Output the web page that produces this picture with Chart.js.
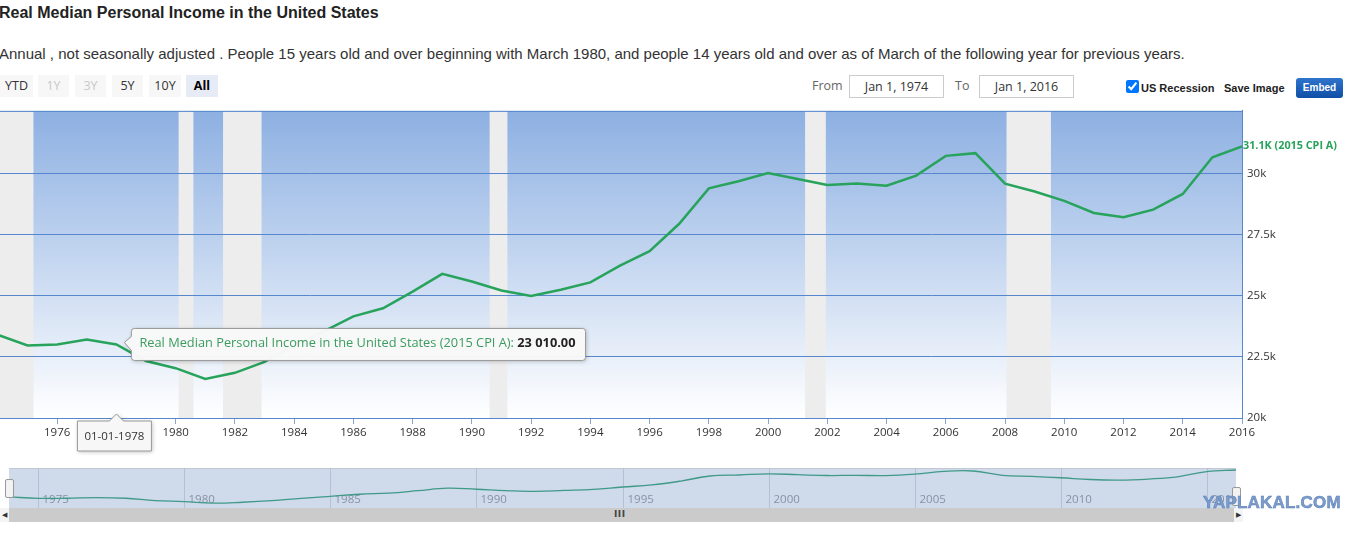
<!DOCTYPE html>
<html>
<head>
<meta charset="utf-8">
<script src="https://cdn.jsdelivr.net/npm/chart.js@4.4.1/dist/chart.umd.min.js"></script>
<style>
  body { margin: 0; width: 1370px; height: 534px; overflow: hidden; background: #fff; font-family: "Liberation Sans", Arial, sans-serif; position: relative; }
  .abs { position: absolute; }
  #title { left: -1px; top: 4px; font-size: 16px; font-weight: bold; color: #222; white-space: nowrap; }
  #sub { left: -1px; top: 45px; font-size: 15px; color: #333; white-space: nowrap; }
  .btn { top: 75px; height: 22px; line-height: 22px; text-align: center; font-family: "Open Sans", sans-serif; font-size: 12.5px; color: #333; background: #f7f7f7; }
  .btn.off { color: #c8c8c8; }
  .btn.on { background: #e6ebf5; font-weight: bold; color: #000; }
  .lbl { top: 77px; font-family: "Open Sans", sans-serif; font-size: 12.5px; color: #666; }
  .box { top: 75px; height: 21px; width: 93px; border: 1px solid #ccc; text-align: center; line-height: 21px; font-family: "Open Sans", sans-serif; font-size: 12.5px; color: #333; }
  .small { top: 82px; font-size: 11px; font-weight: bold; color: #222; }
  #embed { left: 1296px; top: 78px; width: 47px; height: 20px; line-height: 20px; border-radius: 3px; background: linear-gradient(#2f74cc, #0f4fa6); color: #fff; font-size: 10px; font-weight: bold; text-align: center; }
  #scroll { left: 0; top: 508px; width: 1243px; height: 14px; background: #cbcbcb; }
  .arrow { top: 508px; width: 9px; height: 14px; background: #f4f4f4; font-size: 7px; line-height: 14px; text-align: center; color: #333; }
  .handle { width: 7px; height: 17px; background: #f2f2f2; border: 1px solid #999; border-radius: 2px; }
  #wm { left: 1203px; top: 493px; font-size: 17px; font-weight: bold; color: #7b9ccc; letter-spacing: 0.2px; -webkit-text-stroke: 0.5px #5b7fb5; }
</style>
</head>
<body>
<div id="title" class="abs">Real Median Personal Income in the United States</div>
<div id="sub" class="abs">Annual , not seasonally adjusted . People 15 years old and over beginning with March 1980, and people 14 years old and over as of March of the following year for previous years.</div>

<div class="abs btn" style="left:0;width:33px">YTD</div>
<div class="abs btn off" style="left:38px;width:31px">1Y</div>
<div class="abs btn off" style="left:75px;width:31px">3Y</div>
<div class="abs btn" style="left:112px;width:31px">5Y</div>
<div class="abs btn" style="left:149px;width:32px">10Y</div>
<div class="abs btn on" style="left:186px;width:32px">All</div>

<div class="abs lbl" style="left:812px">From</div>
<div class="abs box" style="left:849px">Jan 1, 1974</div>
<div class="abs lbl" style="left:955px">To</div>
<div class="abs box" style="left:979px">Jan 1, 2016</div>

<input type="checkbox" checked class="abs" style="left:1126px;top:80px;margin:0;width:13px;height:13px">
<div class="abs small" style="left:1141px">US Recession</div>
<div class="abs small" style="left:1224px">Save Image</div>
<div id="embed" class="abs">Embed</div>

<canvas id="main" class="abs" width="1370" height="360" style="left:0;top:99px"></canvas>
<canvas id="nav" class="abs" width="1227" height="40" style="left:9px;top:468px"></canvas>

<div id="scroll" class="abs"></div>
<div class="abs" style="left:614px;top:509px;font-size:9px;font-weight:bold;color:#444;letter-spacing:0.5px;font-family:'DejaVu Sans'">III</div>
<div class="abs arrow" style="left:0">&#9664;</div>
<div class="abs arrow" style="left:1234px">&#9654;</div>
<div class="abs handle" style="left:5px;top:479px"></div>
<div class="abs handle" style="left:1232px;top:487px"></div>
<div id="wm" class="abs">YAPLAKAL.COM</div>

<script>
const years = [1974, 1975, 1976, 1977, 1978, 1979, 1980, 1981, 1982, 1983, 1984, 1985, 1986, 1987,
  1988, 1989, 1990, 1991, 1992, 1993, 1994, 1995, 1996, 1997, 1998, 1999, 2000, 2001, 2002, 2003,
  2004, 2005, 2006, 2007, 2008, 2009, 2010, 2011, 2012, 2013, 2014, 2015, 2016];
const income = [23400, 22970, 23010, 23210, 23010, 22330, 22040, 21600, 21850, 22300, 22980, 23550, 24160, 24490,
  25170, 25900, 25590, 25220, 24990, 25250, 25550, 26240, 26830, 27950, 29400, 29690, 30030, 29780, 29540, 29600,
  29510, 29920, 30730, 30840, 29590, 29270, 28890, 28390, 28220, 28530, 29170, 30670, 31120];

// recession periods, decimal years
const recStart = [1973.9, 1980.1, 1981.6, 1990.6, 2001.25, 2008.05];
const recEnd   = [1975.2, 1980.6, 1982.9, 1991.2, 2001.95, 2009.55];

const yTicks = [20000, 22500, 25000, 27500, 30000];
const yTickLabels = ['20k', '22.5k', '25k', '27.5k', '30k'];
const xTickYears = [1976, 1978, 1980, 1982, 1984, 1986, 1988, 1990, 1992, 1994, 1996, 1998,
  2000, 2002, 2004, 2006, 2008, 2010, 2012, 2014, 2016];
const navYears = [1975, 1980, 1985, 1990, 1995, 2000, 2005, 2010, 2015];

const seriesName = 'Real Median Personal Income in the United States (2015 CPI A)';
const hoverYear = 1978;
const lastLabel = '31.1K (2015 CPI A)';

const points = years.map((y, i) => ({ x: y, y: income[i] }));
const blue = '#5686cc';
const green = '#27a35c';

function fmt(v) {
  const s = v.toFixed(2).split('.');
  return s[0].replace(/\B(?=(\d{3})+(?!\d))/g, ' ') + '.' + s[1];
}

const backdrop = {
  id: 'backdrop',
  beforeDraw(chart) {
    const { ctx, chartArea: a, scales: { x } } = chart;
    ctx.save();
    const g = ctx.createLinearGradient(0, a.top, 0, a.bottom);
    g.addColorStop(0, '#8db0e2');
    g.addColorStop(1, '#ffffff');
    ctx.fillStyle = g;
    ctx.fillRect(a.left, a.top, a.right - a.left, a.bottom - a.top);
    ctx.fillStyle = '#ededed';
    recStart.forEach((s, i) => {
      const x0 = Math.max(a.left, x.getPixelForValue(s));
      const x1 = x.getPixelForValue(recEnd[i]);
      ctx.fillRect(x0, a.top, x1 - x0, a.bottom - a.top);
    });
    ctx.restore();
  },
  afterDraw(chart) {
    const { ctx, chartArea: a, scales: { x, y } } = chart;
    ctx.save();
    // top border
    ctx.strokeStyle = blue;
    ctx.lineWidth = 1;
    ctx.beginPath();
    ctx.moveTo(a.left, a.top + 0.5);
    ctx.lineTo(a.right, a.top + 0.5);
    ctx.stroke();

    // last value label
    const lx = x.getPixelForValue(years[years.length - 1]);
    const ly = y.getPixelForValue(income[income.length - 1]);
    ctx.fillStyle = green;
    ctx.font = 'bold 10.8px "Open Sans", sans-serif';
    ctx.textBaseline = 'middle';
    ctx.fillText(lastLabel, lx + 1, ly);

    // tooltip
    const i = years.indexOf(hoverYear);
    const px = x.getPixelForValue(years[i]);
    const py = y.getPixelForValue(income[i]);
    const txt1 = seriesName + ': ';
    const txt2 = fmt(income[i]);
    const fs = 12.8;
    ctx.font = fs + 'px "Open Sans", sans-serif';
    const w1 = ctx.measureText(txt1).width;
    ctx.font = 'bold ' + fs + 'px "Open Sans", sans-serif';
    const w2 = ctx.measureText(txt2).width;
    const bx = px + 15, bw = w1 + w2 + 18, bh = 32, by = py - 16;
    ctx.shadowColor = 'rgba(0,0,0,0.25)';
    ctx.shadowBlur = 4;
    ctx.shadowOffsetX = 1;
    ctx.shadowOffsetY = 1;
    ctx.fillStyle = 'rgba(250,250,250,0.97)';
    ctx.strokeStyle = '#999';
    ctx.beginPath();
    ctx.moveTo(bx + 3, by);
    ctx.lineTo(bx + bw - 3, by);
    ctx.quadraticCurveTo(bx + bw, by, bx + bw, by + 3);
    ctx.lineTo(bx + bw, by + bh - 3);
    ctx.quadraticCurveTo(bx + bw, by + bh, bx + bw - 3, by + bh);
    ctx.lineTo(bx + 3, by + bh);
    ctx.quadraticCurveTo(bx, by + bh, bx, by + bh - 3);
    ctx.lineTo(bx, py + 6);
    ctx.lineTo(bx - 7, py - 2);
    ctx.lineTo(bx, py - 8);
    ctx.lineTo(bx, by + 3);
    ctx.quadraticCurveTo(bx, by, bx + 3, by);
    ctx.closePath();
    ctx.fill();
    ctx.shadowColor = 'transparent';
    ctx.stroke();
    ctx.textBaseline = 'middle';
    ctx.font = fs + 'px "Open Sans", sans-serif';
    ctx.fillStyle = '#3a9c5e';
    ctx.fillText(txt1, bx + 8, py - 1);
    ctx.font = 'bold ' + fs + 'px "Open Sans", sans-serif';
    ctx.fillStyle = '#222';
    ctx.fillText(txt2, bx + 8 + w1, py - 1);

    // x-axis date flag
    const dtxt = '01-01-' + hoverYear;
    ctx.font = '11.5px "Open Sans", sans-serif';
    const dw = ctx.measureText(dtxt).width + 14;
    const dx = px - 39, dy = a.bottom + 3, dh = 30;
    ctx.shadowColor = 'rgba(0,0,0,0.25)';
    ctx.shadowBlur = 4;
    ctx.shadowOffsetX = 1;
    ctx.shadowOffsetY = 1;
    ctx.fillStyle = '#f7f7f7';
    ctx.strokeStyle = '#999';
    ctx.beginPath();
    ctx.moveTo(dx, dy);
    ctx.lineTo(px - 7, dy);
    ctx.lineTo(px, dy - 7);
    ctx.lineTo(px + 7, dy);
    ctx.lineTo(dx + dw, dy);
    ctx.lineTo(dx + dw, dy + dh);
    ctx.lineTo(dx, dy + dh);
    ctx.closePath();
    ctx.fill();
    ctx.shadowColor = 'transparent';
    ctx.stroke();
    ctx.fillStyle = '#333';
    ctx.textAlign = 'center';
    ctx.fillText(dtxt, dx + dw / 2, dy + dh / 2 + 1);
    ctx.restore();
  }
};

new Chart(document.getElementById('main'), {
  type: 'line',
  data: {
    datasets: [{
      label: seriesName,
      data: points,
      borderColor: green,
      borderWidth: 2.5,
      pointRadius: 0,
      tension: 0,
      fill: false
    }]
  },
  options: {
    responsive: false,
    animation: false,
    events: [],
    layout: { padding: { top: 10, left: 0, right: 0, bottom: 0 } },
    plugins: { legend: { display: false }, tooltip: { enabled: false } },
    scales: {
      x: {
        type: 'linear',
        min: 1974.07,
        max: 2016,
        afterFit(s) { s.height = 41; },
        afterBuildTicks(s) { s.ticks = xTickYears.map(v => ({ value: v })); },
        grid: { drawOnChartArea: false, drawTicks: true, tickLength: 6, color: '#8aa6cc' },
        border: { color: blue },
        ticks: {
          color: '#333',
          font: { family: '"Open Sans", sans-serif', size: 11.5 },
          maxRotation: 0,
          autoSkip: false,
          padding: 2,
          callback: v => String(v)
        }
      },
      y: {
        position: 'right',
        min: 20000,
        max: 32570,
        afterFit(s) { s.width = 128; },
        afterBuildTicks(s) { s.ticks = yTicks.map(v => ({ value: v })); },
        grid: { color: blue, drawTicks: false },
        border: { color: blue },
        ticks: {
          color: '#333',
          font: { family: '"Open Sans", sans-serif', size: 11.5 },
          padding: 5,
          callback: v => yTickLabels[yTicks.indexOf(v)]
        }
      }
    }
  },
  plugins: [backdrop]
});

const navBack = {
  id: 'navBack',
  beforeDraw(chart) {
    const { ctx, chartArea: a, scales: { x } } = chart;
    ctx.save();
    ctx.fillStyle = '#cfdaeb';
    ctx.fillRect(a.left, a.top, a.right - a.left, a.bottom - a.top);
    ctx.strokeStyle = '#c2c8d2';
    ctx.beginPath();
    ctx.moveTo(a.left, a.top + 0.5);
    ctx.lineTo(a.right, a.top + 0.5);
    ctx.stroke();
    ctx.strokeStyle = '#b5c1d3';
    ctx.font = '11.5px "Open Sans", sans-serif';
    ctx.fillStyle = '#8693a6';
    ctx.textBaseline = 'middle';
    navYears.forEach(yr => {
      const px = Math.round(x.getPixelForValue(yr)) + 0.5;
      ctx.beginPath();
      ctx.moveTo(px, a.top);
      ctx.lineTo(px, a.bottom);
      ctx.stroke();
      ctx.fillText(String(yr), px + 4, a.top + 32);
    });
    ctx.restore();
  }
};

new Chart(document.getElementById('nav'), {
  type: 'line',
  data: {
    datasets: [{
      data: points,
      borderColor: '#3f9a88',
      borderWidth: 1.3,
      pointRadius: 0,
      tension: 0.4,
      fill: false
    }]
  },
  options: {
    responsive: false,
    animation: false,
    events: [],
    layout: { padding: 0 },
    plugins: { legend: { display: false }, tooltip: { enabled: false } },
    scales: {
      x: { type: 'linear', min: 1974, max: 2016, display: false },
      y: { min: 20200, max: 31700, display: false }
    }
  },
  plugins: [navBack]
});
</script>
</body>
</html>
